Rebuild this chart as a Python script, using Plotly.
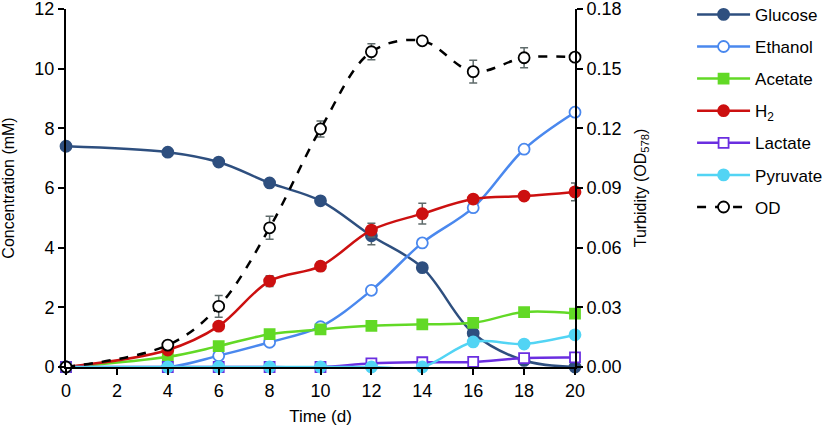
import plotly.graph_objects as go

days = [0, 4, 6, 8, 10, 12, 14, 16, 18, 20]
glucose = [7.4, 7.2, 6.87, 6.17, 5.57, 4.4, 3.33, 1.13, 0.22, 0.0]
glucose_err = [0, 0, 0, 0, 0, 0.3, 0, 0, 0, 0]
ethanol = [0, 0, 0.38, 0.83, 1.35, 2.57, 4.16, 5.34, 7.3, 8.54]
acetate = [0, 0.34, 0.7, 1.1, 1.26, 1.38, 1.43, 1.48, 1.84, 1.79]
h2 = [0, 0.57, 1.37, 2.88, 3.38, 4.59, 5.14, 5.63, 5.73, 5.87]
h2_err = [0, 0, 0, 0.18, 0.15, 0.23, 0.35, 0, 0, 0.3]
lactate = [0, 0, 0, 0, 0, 0.12, 0.16, 0.17, 0.3, 0.32]
pyruvate = [0, 0, 0, 0, 0, 0, 0, 0.84, 0.77, 1.08]
od = [0, 0.011, 0.0305, 0.070, 0.1197, 0.1585, 0.164, 0.1485, 0.1555, 0.1558]
od_err = [0, 0, 0.0055, 0.0058, 0.004, 0.004, 0, 0.0057, 0.005, 0]

FONT = "Liberation Sans, Arial, sans-serif"
ERRC = "#5f6b6b"

fig = go.Figure()

def add(name, y, color, symbol, err=None, fill=None, yaxis="y", dash="solid", lw=2.5):
    fig.add_trace(go.Scatter(
        x=days, y=y, name=name, mode="lines+markers", yaxis=yaxis,
        line=dict(color=color, width=lw, shape="spline", dash=dash),
        marker=dict(symbol=symbol, size=11 if "square" not in symbol else 10,
                    color=fill if fill else color,
                    line=dict(color=color, width=1.8)),
        error_y=dict(type="data", array=err, color=ERRC, thickness=1.5, width=4, visible=True) if err else None,
        cliponaxis=False, legendgroup=name,
    ))

add("Glucose", glucose, "#2e4f7f", "circle", err=glucose_err)
add("Ethanol", ethanol, "#4a88ee", "circle", fill="white")
add("Acetate", acetate, "#62d926", "square")
add("H<sub>2</sub>", h2, "#cc1010", "circle", err=h2_err)
add("Lactate", lactate, "#6a2ee0", "square", fill="white")
add("Pyruvate", pyruvate, "#52d4f4", "circle")
add("OD", od, "#000000", "circle", err=od_err, fill="white", yaxis="y2", dash="dash", lw=2.5)

axis_common = dict(showline=True, linecolor="black", linewidth=2, ticks="outside",
                   tickcolor="black", ticklen=6, tickwidth=2, showgrid=False, zeroline=False,
                   automargin=False, ticklabeloverflow="allow",
                   tickfont=dict(size=18, color="black", family=FONT))

fig.update_layout(
    width=825, height=426,
    margin=dict(l=66, r=250, t=9, b=59, autoexpand=False),
    plot_bgcolor="white", paper_bgcolor="white",
    font=dict(family=FONT, color="black", size=16),
    xaxis=dict(range=[0, 20], tickvals=list(range(0, 21, 2)),
               title=dict(text="Time (d)", font=dict(size=17), standoff=11), **axis_common),
    yaxis=dict(range=[0, 12], tickvals=list(range(0, 13, 2)),
               title=dict(text="Concentration (mM)", font=dict(size=16), standoff=19), **axis_common),
    yaxis2=dict(range=[0, 0.18], tickvals=[0, 0.03, 0.06, 0.09, 0.12, 0.15, 0.18],
                tickformat=".2f", overlaying="y", side="right",
                title=dict(text="Turbidity (OD<sub>578</sub>)", font=dict(size=16), standoff=14),
                **axis_common),
    legend=dict(x=1.23, y=1.034, xanchor="left", yanchor="top", maxheight=420,
                font=dict(size=17, family=FONT), traceorder="grouped",
                tracegroupgap=7, itemwidth=53, bgcolor="rgba(0,0,0,0)"),
)

# remove the default 8px page margin so the figure fills the window exactly
fig.write_html("out.html", config={"displayModeBar": False},
               post_script="document.body.style.margin='0';")
